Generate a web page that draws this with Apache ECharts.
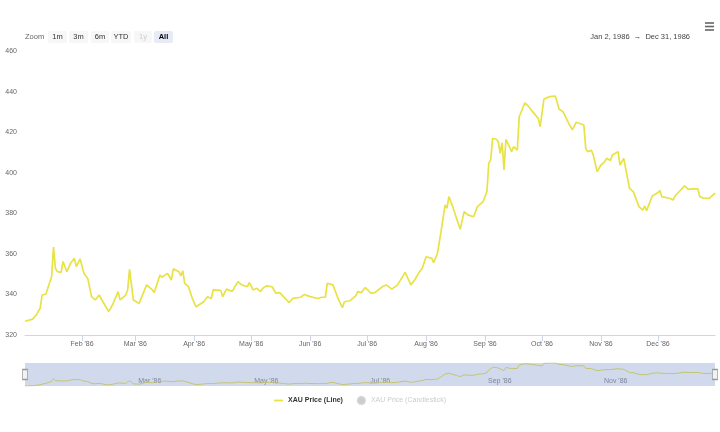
<!DOCTYPE html>
<html>
<head>
<meta charset="utf-8">
<title>XAU Price 1986</title>
<script src="https://cdn.jsdelivr.net/npm/echarts@6/dist/echarts.min.js"></script>
<style>
  html, body { margin: 0; padding: 0; background: #fff; }
  #chart { width: 720px; height: 432px; }
</style>
</head>
<body>
<div id="chart"></div>
<script>
// price samples (1986)
var dates = [
  '1986-01-02', '1986-01-06', '1986-01-08', '1986-01-10', '1986-01-11', '1986-01-13', '1986-01-14', '1986-01-16',
  '1986-01-17', '1986-01-18', '1986-01-19', '1986-01-21', '1986-01-22', '1986-01-24', '1986-01-26', '1986-01-28',
  '1986-01-29', '1986-01-31', '1986-02-02', '1986-02-04', '1986-02-06', '1986-02-08', '1986-02-10', '1986-02-12',
  '1986-02-15', '1986-02-17', '1986-02-20', '1986-02-21', '1986-02-24', '1986-02-25', '1986-02-26', '1986-02-28',
  '1986-03-01', '1986-03-03', '1986-03-07', '1986-03-10', '1986-03-11', '1986-03-14', '1986-03-15', '1986-03-18',
  '1986-03-20', '1986-03-21', '1986-03-24', '1986-03-25', '1986-03-26', '1986-03-27', '1986-03-29', '1986-03-31',
  '1986-04-02', '1986-04-03', '1986-04-06', '1986-04-08', '1986-04-10', '1986-04-11', '1986-04-15', '1986-04-16',
  '1986-04-18', '1986-04-21', '1986-04-24', '1986-04-26', '1986-04-29', '1986-04-30', '1986-05-02', '1986-05-04',
  '1986-05-06', '1986-05-07', '1986-05-09', '1986-05-12', '1986-05-14', '1986-05-16', '1986-05-18', '1986-05-21',
  '1986-05-23', '1986-05-27', '1986-05-29', '1986-06-01', '1986-06-05', '1986-06-07', '1986-06-09', '1986-06-10',
  '1986-06-13', '1986-06-15', '1986-06-16', '1986-06-18', '1986-06-19', '1986-06-22', '1986-06-25', '1986-06-26',
  '1986-06-28', '1986-06-30', '1986-07-03', '1986-07-05', '1986-07-09', '1986-07-11', '1986-07-14', '1986-07-17',
  '1986-07-18', '1986-07-21', '1986-07-24', '1986-07-26', '1986-07-28', '1986-07-30', '1986-08-01', '1986-08-04',
  '1986-08-05', '1986-08-07', '1986-08-09', '1986-08-11', '1986-08-12', '1986-08-13', '1986-08-15', '1986-08-17',
  '1986-08-19', '1986-08-21', '1986-08-23', '1986-08-26', '1986-08-27', '1986-08-28', '1986-08-31', '1986-09-02',
  '1986-09-03', '1986-09-04', '1986-09-05', '1986-09-07', '1986-09-08', '1986-09-09', '1986-09-10', '1986-09-11',
  '1986-09-12', '1986-09-13', '1986-09-15', '1986-09-16', '1986-09-18', '1986-09-19', '1986-09-22', '1986-09-24',
  '1986-09-26', '1986-09-29', '1986-09-30', '1986-10-01', '1986-10-02', '1986-10-05', '1986-10-08', '1986-10-10',
  '1986-10-12', '1986-10-13', '1986-10-15', '1986-10-16', '1986-10-17', '1986-10-19', '1986-10-20', '1986-10-23',
  '1986-10-24', '1986-10-25', '1986-10-27', '1986-10-28', '1986-10-30', '1986-11-01', '1986-11-03', '1986-11-04',
  '1986-11-06', '1986-11-07', '1986-11-10', '1986-11-11', '1986-11-13', '1986-11-14', '1986-11-16', '1986-11-18',
  '1986-11-19', '1986-11-21', '1986-11-23', '1986-11-24', '1986-11-25', '1986-11-28', '1986-12-01', '1986-12-02',
  '1986-12-03', '1986-12-04', '1986-12-07', '1986-12-09', '1986-12-10', '1986-12-11', '1986-12-15', '1986-12-17',
  '1986-12-19', '1986-12-20', '1986-12-22', '1986-12-23', '1986-12-25', '1986-12-28', '1986-12-31'
];
var prices = [
  326.8, 327.8, 329.9, 333.3, 339.7, 340.2, 340.5, 348.8,
  363.3, 352.9, 351.2, 350.9, 356.2, 351.2, 355.4, 357.8,
  353.7, 357.5, 350.4, 347.9, 338.9, 337.3, 339.7, 336.4,
  331.5, 334.8, 341.4, 337.3, 339.7, 342.2, 352.4, 337.3,
  338.1, 335.6, 344.7, 342.2, 340.9, 349.6, 348.5, 350.4,
  347.1, 352.6, 351.2, 349.1, 351.7, 345.5, 343.8, 338.1,
  333.9, 334.8, 336.4, 338.9, 338.0, 342.2, 342.0, 338.9,
  342.6, 341.5, 346.3, 344.7, 343.8, 345.8, 342.2, 343.0,
  341.4, 343.0, 344.2, 343.8, 340.6, 340.9, 338.9, 336.0,
  338.1, 338.6, 340.0, 338.9, 338.0, 338.6, 338.6, 345.5,
  344.7, 339.7, 337.3, 333.5, 336.4, 336.9, 339.3, 341.4,
  340.9, 343.4, 340.6, 340.9, 343.8, 344.7, 342.6, 344.7,
  345.5, 350.9, 344.7, 347.1, 350.4, 352.9, 358.6, 357.8,
  355.7, 360.3, 371.8, 384.1, 382.5, 388.2, 383.3, 377.5,
  372.1, 380.8, 379.2, 378.3, 377.5, 383.3, 385.7, 390.7,
  404.7, 406.3, 417.0, 416.5, 415.3, 409.6, 414.8, 401.4,
  416.5, 414.5, 410.4, 412.8, 411.2, 427.6, 434.5, 432.6,
  430.1, 426.8, 422.7, 423.0, 436.3, 437.5, 437.8, 431.3,
  430.1, 430.9, 424.4, 425.0, 421.1, 424.9, 424.4, 423.5,
  412.0, 410.4, 411.0, 408.7, 400.5, 403.8, 405.5, 407.1,
  406.0, 408.7, 410.4, 403.8, 407.1, 406.5, 392.3, 390.7,
  391.5, 383.3, 381.6, 383.6, 381.3, 388.5, 390.2, 391.2,
  388.2, 387.4, 387.4, 386.6, 388.5, 388.2, 393.5, 391.8,
  392.0, 391.8, 392.0, 388.2, 387.4, 387.4, 389.9
];
// y axis tick values
var yTicks = [320, 340, 360, 380, 400, 420, 440, 460];
// range selector buttons
var rangeButtons = ['1m', '3m', '6m', 'YTD', '1y', 'All'];
var monthNames = ['Jan', 'Feb', 'Mar', 'Apr', 'May', 'Jun', 'Jul', 'Aug', 'Sep', 'Oct', 'Nov', 'Dec'];
var seriesNames = ['XAU Price (Line)', 'XAU Price (Candlestick)'];

(function() {
  var myChart = echarts.init(document.getElementById('chart'));
  var font = '"Liberation Sans", Arial, sans-serif';
  var lineColor = '#e8e245';

  // parse 'YYYY-MM-DD' as local time
  function toTime(s) {
    var p = s.split('-');
    return new Date(+p[0], +p[1] - 1, +p[2]).getTime();
  }
  function fmtDate(t) {
    var d = new Date(t);
    return monthNames[d.getMonth()] + ' ' + d.getDate() + ', ' + d.getFullYear();
  }
  // "Feb '86" on month starts only
  function monthLabel(v) {
    var d = new Date(v);
    if (d.getDate() !== 1 || d.getHours() !== 0) return '';
    return monthNames[d.getMonth()] + " '" + String(d.getFullYear()).slice(2);
  }

  var points = dates.map(function(d, i) { return [toTime(d), prices[i]]; });
  var t0 = points[0][0];
  var t1 = points[points.length - 1][0];
  var pMin = Math.min.apply(null, prices);
  var pMax = Math.max.apply(null, prices);

  // range selector + header graphics
  var graphics = [{
    type: 'text', left: 25, top: 33,
    style: { text: 'Zoom', fill: '#666', font: '7.5px ' + font }
  }];
  var btnX = [48, 69, 91, 111, 134, 154];
  var btnW = [19, 19, 18, 20, 18, 19];
  rangeButtons.forEach(function(b, i) {
    var sel = b === 'All';
    graphics.push({
      type: 'group', left: btnX[i], top: 31,
      children: [{
        type: 'rect', shape: { x: 0, y: 0, width: btnW[i], height: 12, r: 2 },
        style: { fill: sel ? '#e6ebf5' : '#f7f7f7' }
      }, {
        type: 'text', x: btnW[i] / 2, y: 6,
        style: {
          text: b, align: 'center', verticalAlign: 'middle',
          fill: sel ? '#000' : (b === '1y' ? '#ccc' : '#333'),
          font: (sel ? 'bold ' : '') + '7.5px ' + font
        }
      }]
    });
  });
  graphics.push({
    type: 'text', right: 30, top: 33,
    style: { text: fmtDate(t0) + '  \u2192  ' + fmtDate(t1), fill: '#444', font: '7.5px ' + font }
  });
  // export menu icon
  [23, 26.5, 30].forEach(function(y) {
    graphics.push({
      type: 'rect', shape: { x: 705, y: y - 0.8, width: 9, height: 1.6 },
      style: { fill: '#666' }
    });
  });

  var option = {
    animation: false,
    textStyle: { fontFamily: font },
    graphic: graphics,
    legend: {
      left: 'center',
      top: 391,
      itemWidth: 9,
      itemHeight: 7,
      itemGap: 14,
      inactiveColor: '#ccc',
      textStyle: { fontSize: 7, fontWeight: 'bold', color: '#333', fontFamily: font },
      data: [
        { name: seriesNames[0], icon: 'path://M0,0H10V2H0Z' },
        { name: seriesNames[1], icon: 'circle', textStyle: { fontWeight: 'normal' } }
      ],
      selected: { 'XAU Price (Candlestick)': false }
    },
    grid: [
      { left: 25, right: 5, top: 51, height: 284 },
      { left: 25, right: 5, top: 363, height: 23 }
    ],
    xAxis: [
      {
        type: 'time',
        gridIndex: 0,
        min: t0,
        max: t1,
        splitNumber: 12,
        axisLine: { lineStyle: { color: '#ccd6eb' } },
        axisTick: { show: true, length: 6, lineStyle: { color: '#ccd6eb' } },
        splitLine: { show: false },
        axisLabel: { color: '#666', fontSize: 7, margin: 6, formatter: monthLabel }
      },
      {
        type: 'time',
        gridIndex: 1,
        min: t0,
        max: t1,
        splitNumber: 5,
        axisLine: { show: false },
        axisTick: { show: false },
        splitLine: { show: false },
        axisLabel: {
          inside: true, align: 'left', color: '#888', fontSize: 7, margin: 1,
          padding: [0, 0, 0, 3], formatter: monthLabel
        }
      }
    ],
    yAxis: [
      {
        type: 'value',
        gridIndex: 0,
        min: yTicks[0],
        max: yTicks[yTicks.length - 1],
        interval: yTicks[1] - yTicks[0],
        axisLine: { show: false },
        axisTick: { show: false },
        splitLine: { show: false },
        axisLabel: { color: '#666', fontSize: 7, margin: 8 }
      },
      {
        type: 'value',
        gridIndex: 1,
        min: pMin,
        max: pMax,
        show: false,
        splitLine: { show: false }
      }
    ],
    series: [
      {
        name: seriesNames[0],
        type: 'line',
        xAxisIndex: 0,
        yAxisIndex: 0,
        data: points,
        symbol: 'none',
        lineStyle: { color: lineColor, width: 1.7 },
        itemStyle: { color: lineColor }
      },
      {
        name: seriesNames[1],
        type: 'candlestick',
        xAxisIndex: 0,
        yAxisIndex: 0,
        data: []
      },
      {
        // navigator
        name: 'navigator',
        type: 'line',
        xAxisIndex: 1,
        yAxisIndex: 1,
        data: points,
        symbol: 'none',
        silent: true,
        lineStyle: { color: '#c3c56e', width: 1 },
        markArea: {
          silent: true,
          itemStyle: { color: 'rgba(102,133,194,0.3)' },
          data: [[{ xAxis: t0 }, { xAxis: t1 }]]
        },
        markPoint: {
          silent: true,
          symbol: 'rect',
          symbolSize: [5, 10],
          label: { show: false },
          itemStyle: { color: '#f2f2f2', borderColor: '#999', borderWidth: 1 },
          data: [{ coord: [t0, (pMin + pMax) / 2] }, { coord: [t1, (pMin + pMax) / 2] }]
        }
      }
    ]
  };

  myChart.setOption(option);
})();
</script>
</body>
</html>
